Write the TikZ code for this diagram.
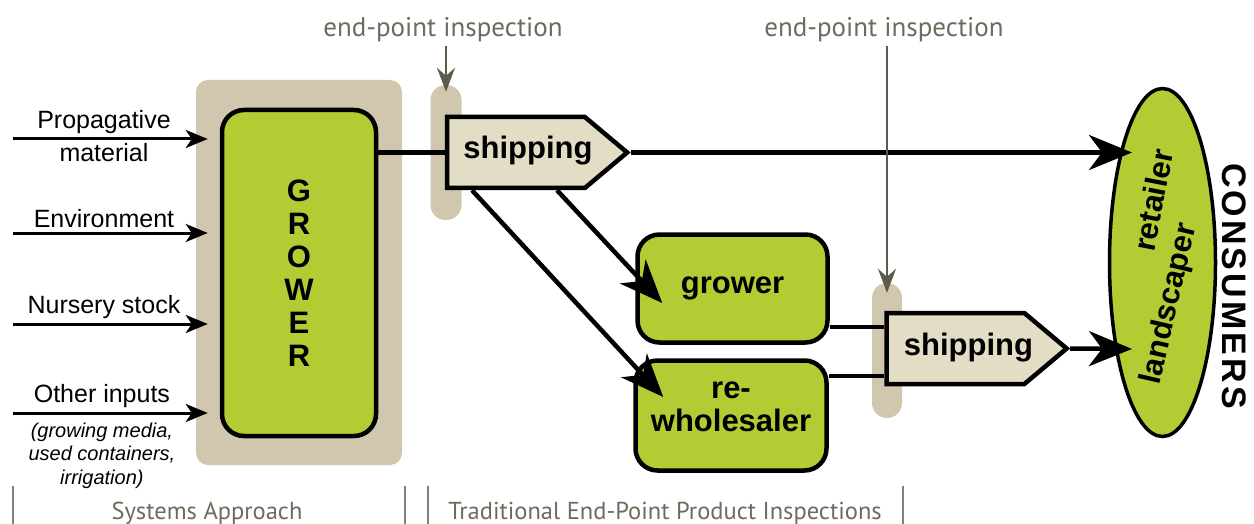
\documentclass[tikz,border=0pt]{standalone}
\usepackage{fontspec}
\setmainfont{Liberation Sans}
\newfontfamily\capfont{PT Sans}
\newfontfamily\consfont[LetterSpace=9]{Liberation Sans}
\usepackage{tikz}
\usetikzlibrary{positioning,arrows.meta,shapes.geometric,shapes.symbols,calc}

\definecolor{leaf}{RGB}{178,205,52}
\definecolor{sand}{RGB}{208,199,174}
\definecolor{pale}{RGB}{228,221,198}
\definecolor{slate}{RGB}{112,106,94}
\definecolor{moss}{RGB}{91,92,76}

\newcommand{\inputfont}{\fontsize{25}{28}\selectfont}
\newcommand{\boxfont}{\bfseries\fontsize{31}{33}\selectfont}
\newcommand{\notefont}{\itshape\fontsize{20}{23.5}\selectfont}
\newcommand{\greyfont}{\capfont\fontsize{27}{30}\selectfont}

\begin{document}
\begin{tikzpicture}[x=1pt,y=-1pt,
    greenbox/.style={draw,line width=4.5pt,fill=leaf,rounded corners=22pt,font=\boxfont},
    shipbox/.style={signal,signal to=east,signal pointer angle=80,draw,line width=4.5pt,fill=pale,minimum width=180pt,minimum height=71pt,font=\boxfont},
    boxtext/.style={font=\boxfont,align=center},
    pill/.style={fill=sand,rounded corners=15pt,minimum width=31pt,minimum height=135pt,inner sep=0pt},
    flow/.style={line width=4.5pt},
    bigtip/.style={flow,-{Stealth[length=43pt,width=35pt,inset=13pt]}},
    feed/.style={line width=3pt,-{Stealth[length=22pt,width=18pt,inset=6pt]}},
    inspect/.style={line width=2pt,color=moss,-{Stealth[length=24pt,width=18pt,inset=8pt]}},
    graytext/.style={text=slate,font=\greyfont,anchor=base},
    divider/.style={line width=2pt,draw=slate!85}]
    \useasboundingbox (0,0) rectangle (1254,524);

    % backgrounds
    \node[fill=sand,rounded corners=12pt,minimum width=206pt,minimum height=385pt] (sys) at (299,272.5) {};
    \node[pill] (gate1) at (446,152.5) {};
    \node[pill,minimum width=30pt] (gate2) at (887,350.5) {};

    % boxes
    \node[greenbox,minimum width=154pt,minimum height=326pt,align=center] (grower) at (299,273) {G\\R\\O\\W\\E\\R};
    \node[shipbox] (ship1) at (516,152.5) {};
    \node[boxtext] (ship1txt) at ($(ship1.center)+(12,-2)$) {shipping};
    \node[greenbox,minimum width=190pt,minimum height=108pt] (grow2) at (732.5,288.5) {grower};
    \node[greenbox,minimum width=191pt,minimum height=110pt] (rewhole) at (731,415.5) {};
    \node[boxtext] (rewholetxt) at ($(rewhole.center)+(0,-9)$) {re-\\wholesaler};
    \node[shipbox] (ship2) at (955.5,348.5) {};
    \node[boxtext] (ship2txt) at ($(ship2.center)+(13,-1)$) {shipping};
    \node[ellipse,draw,line width=3.5pt,fill=leaf,minimum width=106pt,minimum height=348pt,inner sep=0pt] (cons) at (1162.5,262.5) {};
    \node[rotate=79,font=\boxfont] (retail) at (1153,200) {retailer};
    \node[rotate=77,font=\boxfont] (landsc) at (1170,304) {landscaper};
    \node[rotate=-90,font=\consfont\bfseries\fontsize{34}{36}\selectfont] (consumers) at (1234,286) {CONSUMERS};

    % inputs
    \coordinate (in1) at (13,139);
    \coordinate (in2) at (13,233);
    \coordinate (in3) at (13,324);
    \coordinate (in4) at (13,413);
    \draw[feed,shorten >=12pt] (in1) -- (in1 -| grower.west)
        node[above,pos=.44,font=\inputfont] (prop) {Propagative}
        node[below,pos=.44,font=\inputfont] (mat) {material};
    \draw[feed,shorten >=12pt] (in2) -- (in2 -| grower.west)
        node[above,pos=.44,font=\inputfont] (env) {Environment};
    \draw[feed,shorten >=12pt] (in3) -- (in3 -| grower.west)
        node[above,pos=.44,font=\inputfont] (nurs) {Nursery stock};
    \draw[feed,shorten >=12pt] (in4) -- (in4 -| grower.west)
        node[above,pos=.43,font=\inputfont] (other) {Other inputs}
        node[below,pos=.43,font=\notefont,align=center,yshift=-5pt] (note) {(growing media,\\used containers,\\irrigation)};

    % flows
    \coordinate (hit1) at (1132,152.5);
    \coordinate (hit2) at (1132,349);
    \draw[flow] (grower.east |- ship1.west) -- (ship1.west);
    \draw[bigtip] (ship1.east) -- (hit1);
    \draw[bigtip] ($(ship1.south)+(-44,0)$) -- ($(rewhole.west)+(30,-18.5)$);
    \draw[bigtip] ($(ship1.south)+(41,0)$) -- ($(grow2.west)+(27,14.5)$);
    \draw[flow] ($(ship2.west)+(0,-21.5)$) coordinate (j1) -- (j1 -| grow2.east);
    \draw[flow] ($(ship2.west)+(0,27.5)$) coordinate (j2) -- (j2 -| rewhole.east);
    \draw[bigtip] (ship2.east) -- (hit2);

    % inspections
    \node[graytext] (insp1) at (443,37) {end-point inspection};
    \node[graytext] (insp2) at (884,37) {end-point inspection};
    \draw[inspect] (gate1.north |- insp1.south) -- ($(gate1.north)+(0,7)$);
    \draw[inspect] (gate2.north |- insp2.south) -- ($(gate2.north)+(0,10)$);

    % bottom captions
    \node[graytext,font=\capfont\fontsize{24.5}{28}\selectfont] (sysapp) at (207,519) {Systems Approach};
    \node[graytext,font=\capfont\fontsize{24.5}{28}\selectfont] (trad) at (665,519) {Traditional End-Point Product Inspections};
    \foreach \x in {13,405,428,903}
        \draw[divider] (\x,486) -- (\x,524);
\end{tikzpicture}
\end{document}
